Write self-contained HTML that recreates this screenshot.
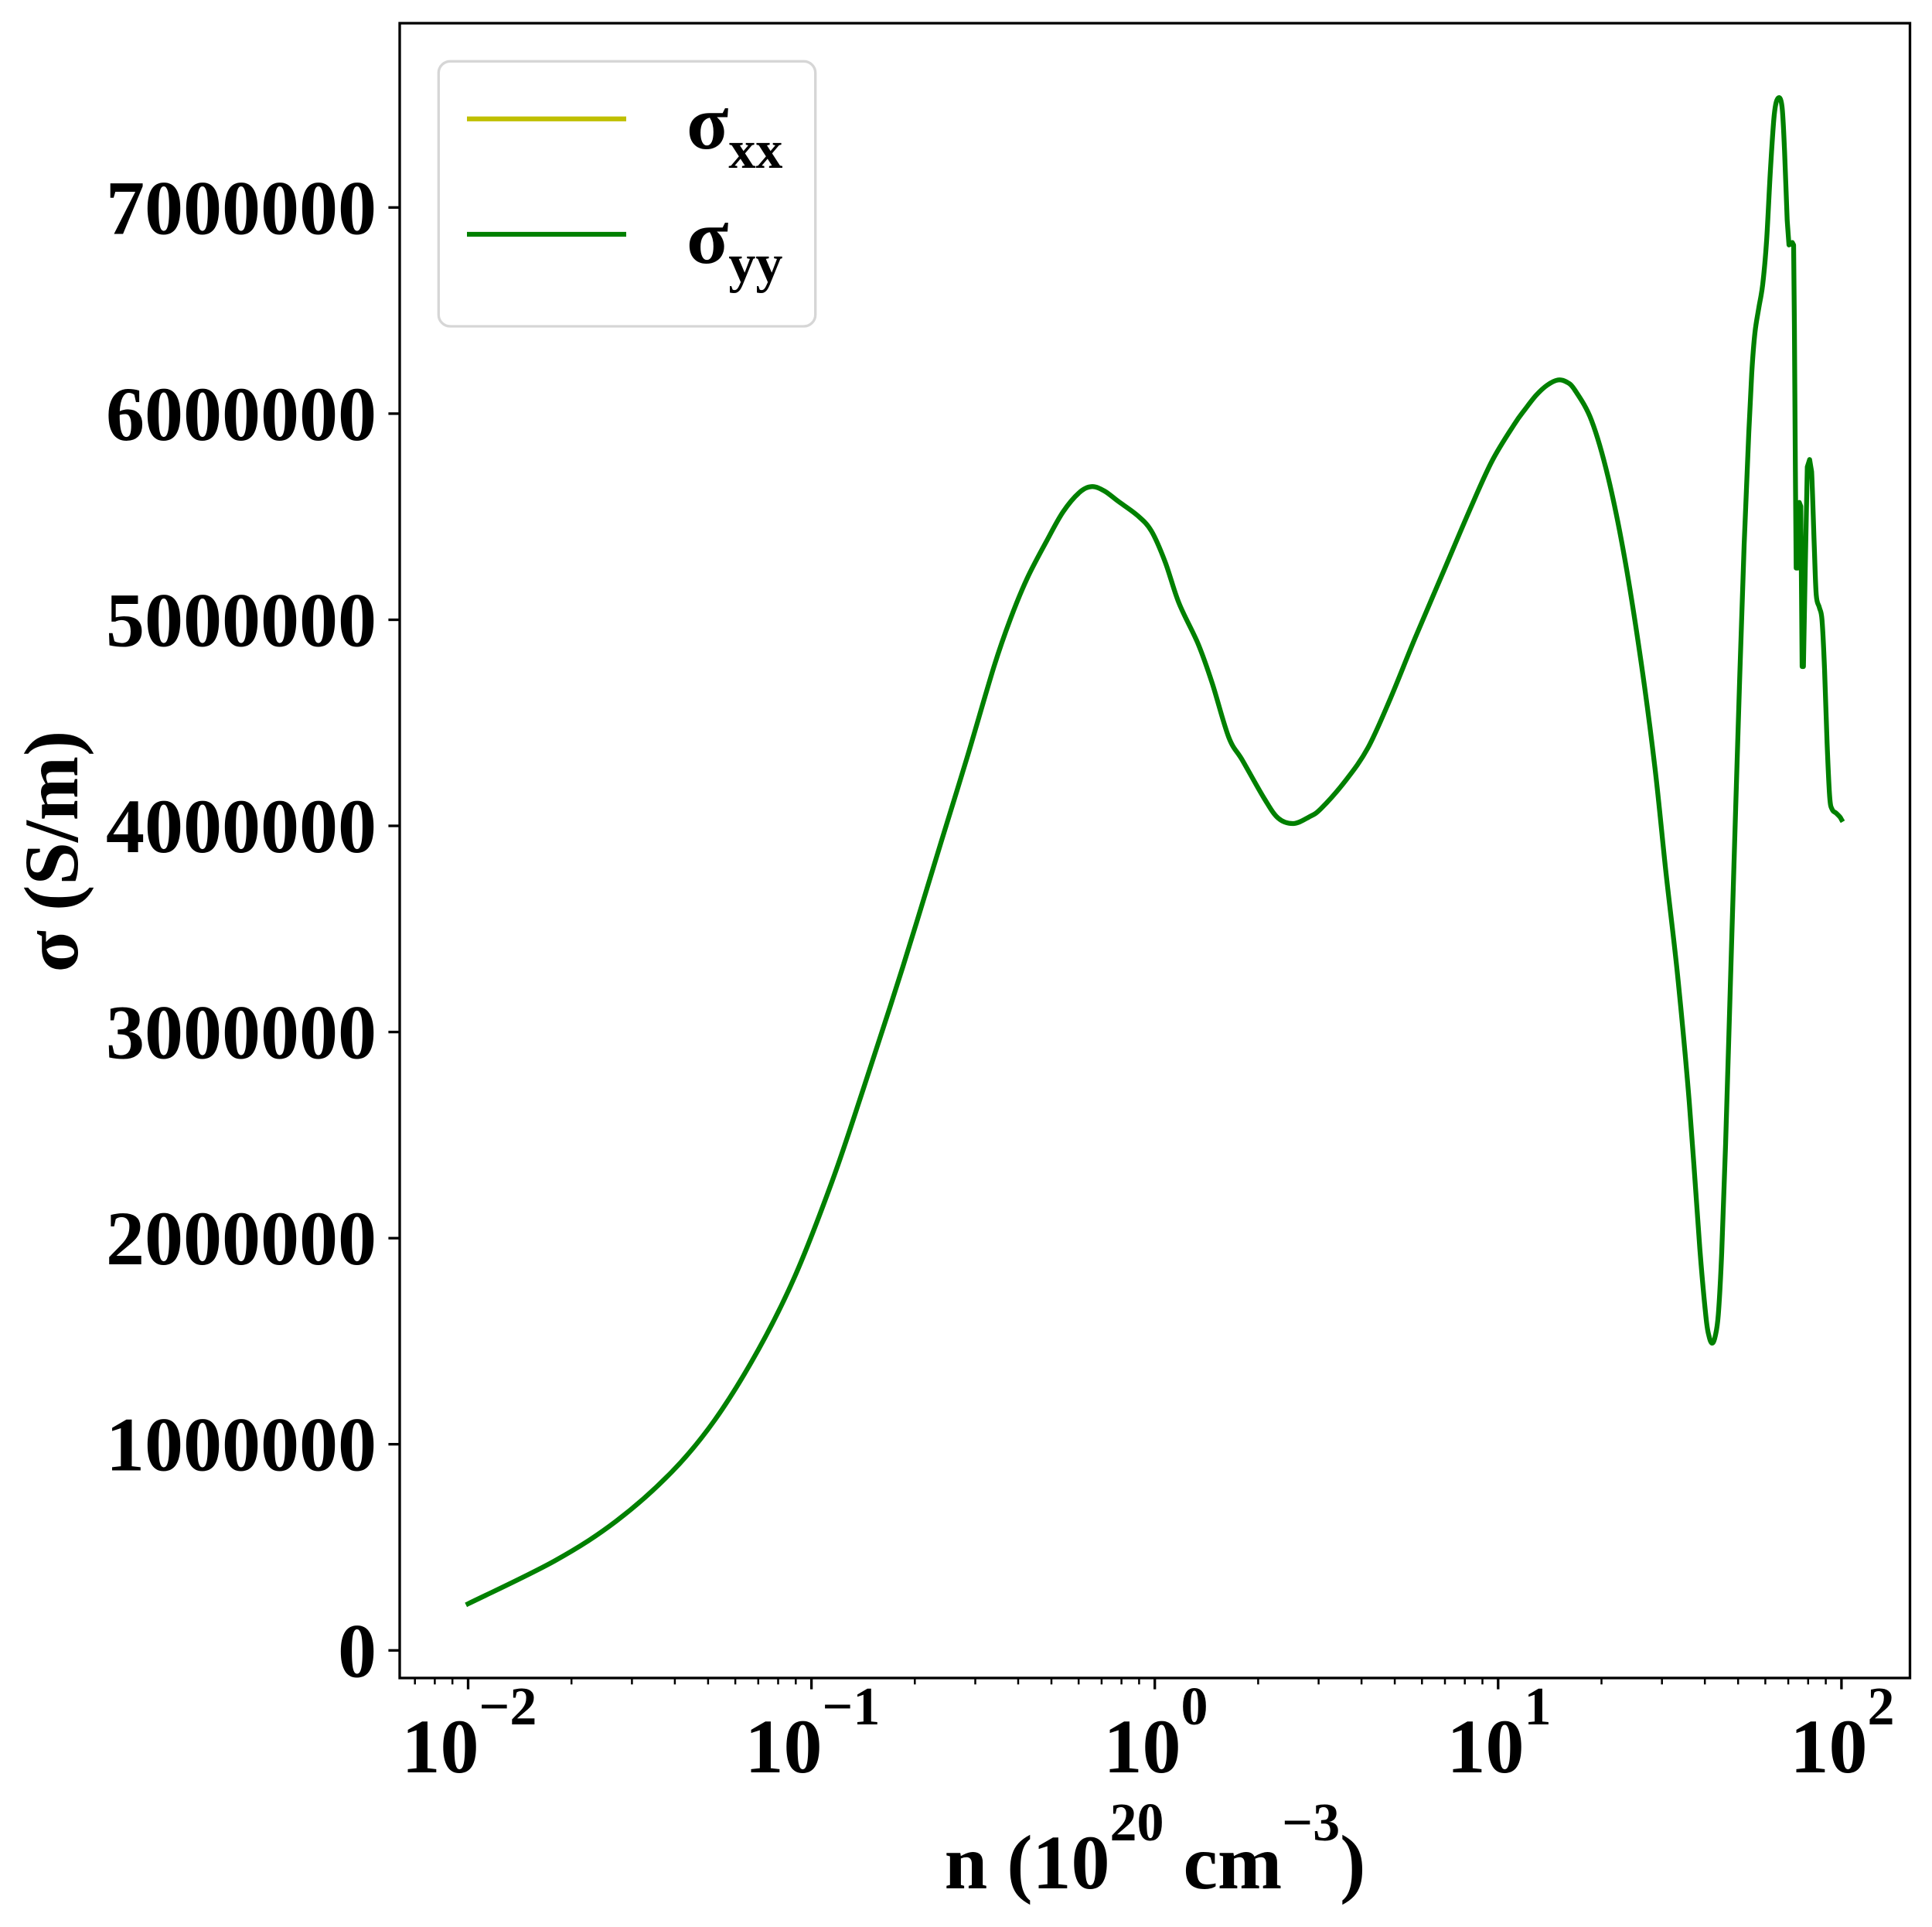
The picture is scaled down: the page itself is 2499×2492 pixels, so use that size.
<!DOCTYPE html>
<html>
<head>
<meta charset="utf-8">
<style>
  html, body { margin: 0; padding: 0; background: #ffffff; }
  svg { display: block; }
  text { font-family: "Liberation Serif", "DejaVu Serif", serif; font-weight: bold; fill: #000; }
</style>
</head>
<body>
<svg width="2499" height="2492" viewBox="0 0 2499 2492" xmlns="http://www.w3.org/2000/svg">
  <rect x="0" y="0" width="2499" height="2492" fill="#ffffff"/>

  <!-- curve (sigma_yy drawn on top of identical sigma_xx) -->
  <path id="curve" fill="none" stroke="#008000" stroke-width="6.25" stroke-linejoin="round" stroke-linecap="square" d="M605.5,2074 L717.5,2018.5 L797.2,1967 L868.9,1903.5 L924.8,1836 L980.6,1746 L1028.4,1650 L1076.2,1528 L1116.1,1410 L1167.9,1250 L1217.9,1087 L1250.8,980 L1285.7,862 L1307.1,800 L1328.6,748 L1353.6,700 L1375,662 L1396.4,636.7 L1412.5,629.3 L1428.6,635 L1446.4,648.3 L1471.4,666.7 L1489.3,686.7 L1507.1,726.7 L1525,780 L1550,833.3 L1567.9,883.3 L1589.3,953.3 L1607.1,983.3 L1635.7,1033.3 L1653.6,1058.3 L1673.2,1065 L1692.9,1056.7 L1708.6,1045.8 L1740.7,1009.2 L1769.3,967.3 L1797.9,904.6 L1830,826.1 L1865.7,742.4 L1901.4,658.7 L1930,596 L1958.6,548.9 L1972.9,529 L1987.1,511 L2001.4,498 L2015,491.4 L2026.4,494 L2037.1,504.5 L2058.6,543.7 L2080,616.9 L2101.4,721.5 L2122.9,857.5 L2140.7,993.5 L2155,1129.4 L2170,1262 L2185,1425 L2198.7,1615 L2206.6,1703 L2210.6,1728 L2214.6,1737 L2218.6,1728 L2222.6,1700 L2227,1620 L2232,1480 L2238,1280 L2244,1080 L2250,885 L2256,705 L2262,560 L2266,480 L2270,430 L2275,398 L2280,368 L2285,312 L2290,220 L2295,148 L2300,126.8 L2305,138 L2308.3,195.7 L2311.7,285 L2314,316.8 L2318.3,313.6 L2320,316.8 L2321,419 L2322.3,610 L2323.3,734.6 L2325.3,734.6 L2327.3,649.7 L2329.3,654.8 L2331,862 L2332.7,862 L2335,737.8 L2337.7,603.8 L2340.7,594.3 L2343.3,610 L2346.7,705.9 L2349.3,769.6 L2353.3,785.6 L2356.7,801.5 L2360,865.3 L2363.3,961 L2366.7,1031 L2370,1047 L2375,1051.5 L2380,1056.6 L2382,1060"/>

  <!-- axes frame -->
  <rect x="517" y="30" width="1953.5" height="2140" fill="none" stroke="#000" stroke-width="3.33"/>

  <!-- y ticks -->
  <g stroke="#000" stroke-width="3.33">
    <line x1="502.4" y1="2134.3" x2="517" y2="2134.3"/>
    <line x1="502.4" y1="1867.7" x2="517" y2="1867.7"/>
    <line x1="502.4" y1="1601.2" x2="517" y2="1601.2"/>
    <line x1="502.4" y1="1334.6" x2="517" y2="1334.6"/>
    <line x1="502.4" y1="1068.0" x2="517" y2="1068.0"/>
    <line x1="502.4" y1="801.5" x2="517" y2="801.5"/>
    <line x1="502.4" y1="534.9" x2="517" y2="534.9"/>
    <line x1="502.4" y1="268.3" x2="517" y2="268.3"/>
  </g>
  <g font-size="100" text-anchor="end">
    <text x="487" y="2168.3">0</text>
    <text x="487" y="1901.7">1000000</text>
    <text x="487" y="1635.2">2000000</text>
    <text x="487" y="1368.6">3000000</text>
    <text x="487" y="1102.0">4000000</text>
    <text x="487" y="835.5">5000000</text>
    <text x="487" y="568.9">6000000</text>
    <text x="487" y="302.3">7000000</text>
  </g>

  <!-- x major ticks -->
  <g stroke="#000" stroke-width="3.33">
    <line x1="605.5" y1="2170" x2="605.5" y2="2184.6"/>
    <line x1="1049.6" y1="2170" x2="1049.6" y2="2184.6"/>
    <line x1="1493.7" y1="2170" x2="1493.7" y2="2184.6"/>
    <line x1="1937.8" y1="2170" x2="1937.8" y2="2184.6"/>
    <line x1="2381.9" y1="2170" x2="2381.9" y2="2184.6"/>
  </g>
  <!-- x minor ticks -->
  <g stroke="#000" stroke-width="2.5">
    <line x1="536.7" y1="2170" x2="536.7" y2="2178.3"/>
    <line x1="562.4" y1="2170" x2="562.4" y2="2178.3"/>
    <line x1="585.2" y1="2170" x2="585.2" y2="2178.3"/>

    <line x1="739.2" y1="2170" x2="739.2" y2="2178.3"/>
    <line x1="817.4" y1="2170" x2="817.4" y2="2178.3"/>
    <line x1="872.9" y1="2170" x2="872.9" y2="2178.3"/>
    <line x1="915.9" y1="2170" x2="915.9" y2="2178.3"/>
    <line x1="951.1" y1="2170" x2="951.1" y2="2178.3"/>
    <line x1="980.8" y1="2170" x2="980.8" y2="2178.3"/>
    <line x1="1006.5" y1="2170" x2="1006.5" y2="2178.3"/>
    <line x1="1029.3" y1="2170" x2="1029.3" y2="2178.3"/>

    <line x1="1183.3" y1="2170" x2="1183.3" y2="2178.3"/>
    <line x1="1261.5" y1="2170" x2="1261.5" y2="2178.3"/>
    <line x1="1317.0" y1="2170" x2="1317.0" y2="2178.3"/>
    <line x1="1360.0" y1="2170" x2="1360.0" y2="2178.3"/>
    <line x1="1395.2" y1="2170" x2="1395.2" y2="2178.3"/>
    <line x1="1424.9" y1="2170" x2="1424.9" y2="2178.3"/>
    <line x1="1450.6" y1="2170" x2="1450.6" y2="2178.3"/>
    <line x1="1473.4" y1="2170" x2="1473.4" y2="2178.3"/>

    <line x1="1627.4" y1="2170" x2="1627.4" y2="2178.3"/>
    <line x1="1705.6" y1="2170" x2="1705.6" y2="2178.3"/>
    <line x1="1761.1" y1="2170" x2="1761.1" y2="2178.3"/>
    <line x1="1804.1" y1="2170" x2="1804.1" y2="2178.3"/>
    <line x1="1839.3" y1="2170" x2="1839.3" y2="2178.3"/>
    <line x1="1869.0" y1="2170" x2="1869.0" y2="2178.3"/>
    <line x1="1894.7" y1="2170" x2="1894.7" y2="2178.3"/>
    <line x1="1917.5" y1="2170" x2="1917.5" y2="2178.3"/>

    <line x1="2071.5" y1="2170" x2="2071.5" y2="2178.3"/>
    <line x1="2149.7" y1="2170" x2="2149.7" y2="2178.3"/>
    <line x1="2205.2" y1="2170" x2="2205.2" y2="2178.3"/>
    <line x1="2248.2" y1="2170" x2="2248.2" y2="2178.3"/>
    <line x1="2283.4" y1="2170" x2="2283.4" y2="2178.3"/>
    <line x1="2313.1" y1="2170" x2="2313.1" y2="2178.3"/>
    <line x1="2338.8" y1="2170" x2="2338.8" y2="2178.3"/>
    <line x1="2361.6" y1="2170" x2="2361.6" y2="2178.3"/>
  </g>

  <!-- x tick labels -->
  <g font-size="100" text-anchor="middle">
    <text x="607" y="2292">10<tspan font-size="70" dy="-62">−2</tspan></text>
    <text x="1051" y="2292">10<tspan font-size="70" dy="-62">−1</tspan></text>
    <text x="1495" y="2292">10<tspan font-size="70" dy="-62">0</tspan></text>
    <text x="1939" y="2292">10<tspan font-size="70" dy="-62">1</tspan></text>
    <text x="2383" y="2292">10<tspan font-size="70" dy="-62">2</tspan></text>
  </g>

  <!-- axis labels -->
  <text x="1494" y="2442" font-size="100" text-anchor="middle">n (10<tspan font-size="70" dy="-62">20</tspan><tspan dy="62"> cm</tspan><tspan font-size="70" dy="-62">−3</tspan><tspan dy="62">)</tspan></text>
  <text transform="translate(100,1101) rotate(-90)" font-size="100" text-anchor="middle">σ (S/m)</text>

  <!-- legend -->
  <rect x="567.3" y="79.3" width="487.4" height="342.7" rx="15" ry="15" fill="#ffffff" fill-opacity="0.8" stroke="#d6d6d6" stroke-width="3.33"/>
  <line x1="604" y1="153.7" x2="810" y2="153.7" stroke="#bfbf00" stroke-width="6.25"/>
  <line x1="604" y1="303" x2="810" y2="303" stroke="#008000" stroke-width="6.25"/>
  <text x="888" y="192" font-size="100">σ<tspan font-size="70" dy="25">xx</tspan></text>
  <text x="888" y="340" font-size="100">σ<tspan font-size="70" dy="24">yy</tspan></text>
</svg>
<script>
(function(){
  try {
    var el = document.getElementById('curve');
    var d = el.getAttribute('d');
    var nums = d.replace(/[ML]/g,' ').trim().split(/[\s,]+/).map(Number);
    var p = [];
    for (var i = 0; i + 1 < nums.length; i += 2) p.push([nums[i], nums[i+1]]);
    var n = p.length;
    var out = 'M' + p[0][0] + ',' + p[0][1];
    for (var i = 0; i < n - 1; i++) {
      var p1 = p[i], p2 = p[i+1];
      var smooth = (p2[0] <= 2312) || (p1[0] >= 2343);
      if (smooth) {
        var p0 = i > 0 ? p[i-1] : p1;
        var p3 = (i + 2 < n) ? p[i+2] : p2;
        var c1x = p1[0] + (p2[0]-p0[0])/6, c1y = p1[1] + (p2[1]-p0[1])/6;
        var c2x = p2[0] - (p3[0]-p1[0])/6, c2y = p2[1] - (p3[1]-p1[1])/6;
        out += ' C' + c1x.toFixed(2) + ',' + c1y.toFixed(2) + ' ' + c2x.toFixed(2) + ',' + c2y.toFixed(2) + ' ' + p2[0] + ',' + p2[1];
      } else {
        out += ' L' + p2[0] + ',' + p2[1];
      }
    }
    el.setAttribute('d', out);
  } catch (e) {}
})();
</script>
</body>
</html>
